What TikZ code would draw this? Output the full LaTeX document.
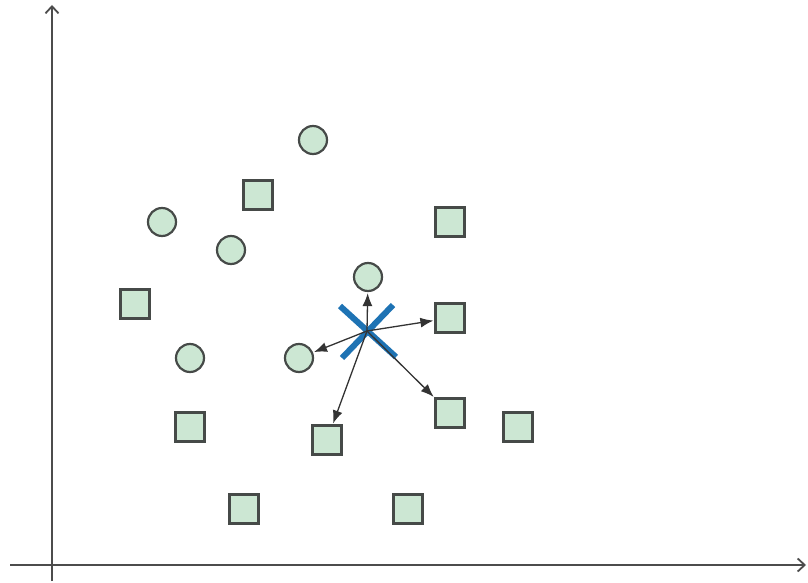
\documentclass[tikz,border=0pt]{standalone}
\usetikzlibrary{arrows.meta}
\definecolor{ptfill}{RGB}{204,231,211}
\definecolor{ptdraw}{RGB}{70,74,72}
\definecolor{xblue}{RGB}{30,115,180}
\begin{document}
\begin{tikzpicture}[x=1pt,y=-1pt,
  axis/.style={draw=black!70,line width=2pt,-{Straight Barb[length=7pt,width=13pt,line width=1.8pt]}},
  circ/.style={circle,draw=ptdraw,fill=ptfill,line width=2.2pt,minimum size=28pt,inner sep=0pt},
  sq/.style={rectangle,draw=ptdraw,fill=ptfill,line width=2.2pt,minimum size=29pt,inner sep=0pt},
  link/.style={draw=black!80,line width=1.3pt,-{Latex[length=13pt,width=10pt]},shorten >=1pt},
  xstroke/.style={draw=xblue,line width=6pt}]
\useasboundingbox (0,0) rectangle (808,583);
% axes
\coordinate (o1) at (52,581);
\coordinate (ytop) at (52,5);
\coordinate (x0) at (10,565);
\coordinate (xend) at (806,565);
\draw[axis] (o1) -- (ytop);
\draw[axis] (x0) -- (xend);
% circles
\node[circ] (c1) at (313,140) {};
\node[circ] (c2) at (162,222) {};
\node[circ] (c3) at (231,250) {};
\node[circ] (c4) at (368,277) {};
\node[circ] (c5) at (190,358) {};
\node[circ] (c6) at (299,358) {};
% squares
\node[sq] (s1) at (258,195) {};
\node[sq] (s2) at (450,222) {};
\node[sq] (s3) at (135,304) {};
\node[sq] (s4) at (450,318) {};
\node[sq] (s5) at (190,427) {};
\node[sq] (s6) at (327,440) {};
\node[sq] (s7) at (450,413) {};
\node[sq] (s8) at (518,427) {};
\node[sq] (s9) at (244,509) {};
\node[sq] (s10) at (408,509) {};
% query X
\coordinate (q) at (367,331);
\coordinate (xa1) at (340,306);
\coordinate (xa2) at (396,357);
\coordinate (xb1) at (393,305);
\coordinate (xb2) at (342,358);
\draw[xstroke] (xa1) -- (xa2);
\draw[xstroke] (xb1) -- (xb2);
% neighbour arrows
\draw[link] (q) -- (c4);
\draw[link] (q) -- (s4);
\draw[link] (q) -- (c6);
\draw[link] (q) -- (s6);
\draw[link] (q) -- (s7);
\end{tikzpicture}
\end{document}
